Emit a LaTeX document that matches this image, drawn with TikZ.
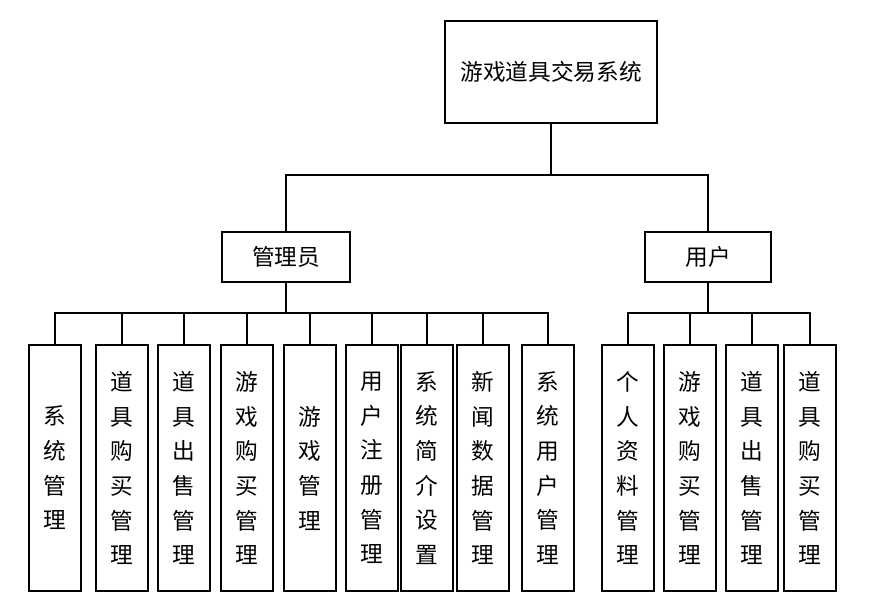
\documentclass[tikz,border=0pt]{standalone}
\usepackage{fontspec}
\newfontfamily\cjk{Noto Sans CJK SC}
\tikzset{
  box/.style={draw,line width=1.4pt,inner sep=0pt,font=\cjk\fontsize{17}{26}\selectfont,align=center},
  leaf/.style={box,minimum width=39pt,minimum height=185pt},
  link/.style={line width=1.2pt}
}
\begin{document}
\begin{tikzpicture}[x=0.75pt,y=-0.75pt]
	\useasboundingbox (0,0) rectangle (896,602);
	%root and roles
		\node[box,minimum width=159pt,minimum height=76pt] (root) at (551,72) {游戏道具交易系统};
		\node[box,minimum width=96pt,minimum height=37pt] (admin) at (286,257) {管理员};
		\node[box,minimum width=94pt,minimum height=37pt] (user) at (708,257) {用户};
	%bus
		\coordinate (bus) at (551,175);
		\draw[link] (root.south) -- (bus);
		\draw[link] (bus) -| (admin.north);
		\draw[link] (bus) -| (user.north);
	%admin leaves
		\foreach \x/\t [count=\i] in {55/系\\统\\管\\理, 122/道\\具\\购\\买\\管\\理, 184/道\\具\\出\\售\\管\\理,
			247/游\\戏\\购\\买\\管\\理, 310/游\\戏\\管\\理, 372/用\\户\\注\\册\\管\\理,
			427/系\\统\\简\\介\\设\\置, 483/新\\闻\\数\\据\\管\\理, 548/系\\统\\用\\户\\管\\理}{
			\node[leaf] (a\i) at (\x,468) {\t};
			\draw[link] (admin.south) -- (286,313) -| (a\i.north);
		}
	%user leaves
		\foreach \x/\t [count=\i] in {628/个\\人\\资\\料\\管\\理, 690/游\\戏\\购\\买\\管\\理,
			752/道\\具\\出\\售\\管\\理, 810/道\\具\\购\\买\\管\\理}{
			\node[leaf] (u\i) at (\x,468) {\t};
			\draw[link] (user.south) -- (708,313) -| (u\i.north);
		}
\end{tikzpicture}
\end{document}
